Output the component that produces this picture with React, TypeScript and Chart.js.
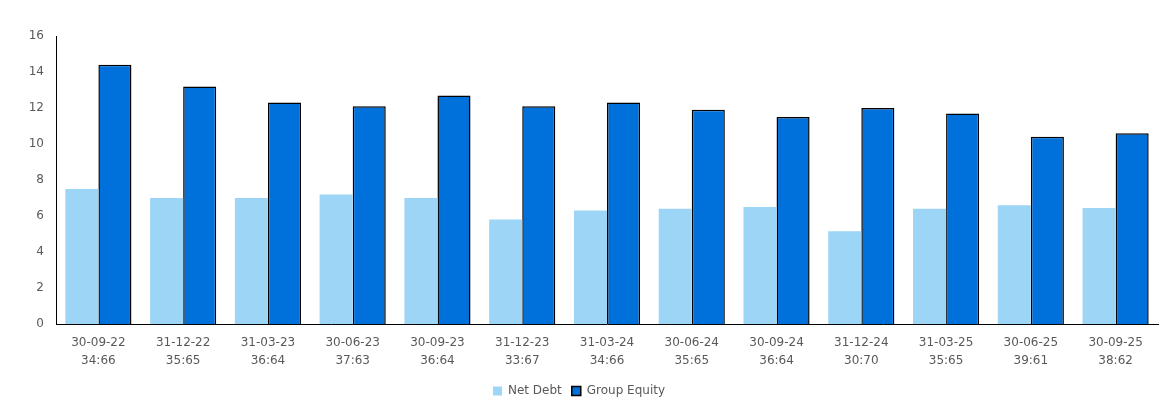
import React, { useEffect, useRef } from 'react';
import { Chart, registerables } from 'chart.js';

Chart.register(...registerables);

const periods = [
  '30-09-22', '31-12-22', '31-03-23', '30-06-23', '30-09-23', '31-12-23', '31-03-24',
  '30-06-24', '30-09-24', '31-12-24', '31-03-25', '30-06-25', '30-09-25',
];
const ratios = [
  '34:66', '35:65', '36:64', '37:63', '36:64', '33:67', '34:66',
  '35:65', '36:64', '30:70', '35:65', '39:61', '38:62',
];
const netDebt = [7.5, 7.0, 7.0, 7.2, 7.0, 5.8, 6.3, 6.4, 6.5, 5.15, 6.4, 6.6, 6.45];
const groupEquity = [14.4, 13.2, 12.3, 12.1, 12.7, 12.1, 12.3, 11.9, 11.5, 12.0, 11.7, 10.4, 10.6];
const yTicks = { min: 0, max: 16, step: 2 };

const textColor = '#595959';
const font = { family: 'DejaVu Sans, Verdana, sans-serif', size: 12, lineHeight: 1.5 };

const App: React.FC = () => {
  const canvasRef = useRef<HTMLCanvasElement>(null);
  const chartRef = useRef<Chart | null>(null);

  useEffect(() => {
    document.body.style.margin = '0';
    if (!canvasRef.current) return;
    if (chartRef.current) chartRef.current.destroy();

    chartRef.current = new Chart(canvasRef.current, {
      type: 'bar',
      data: {
        labels: periods.map((p, i) => [p, ratios[i]]),
        datasets: [
          {
            label: 'Net Debt',
            data: netDebt,
            backgroundColor: '#9dd5f7',
            borderWidth: 0,
            barPercentage: 1,
            categoryPercentage: 0.78,
          },
          {
            label: 'Group Equity',
            data: groupEquity,
            backgroundColor: '#0070db',
            borderColor: '#000000',
            borderWidth: 1.5,
            barPercentage: 1,
            categoryPercentage: 0.78,
          },
        ],
      },
      options: {
        responsive: true,
        maintainAspectRatio: false,
        animation: false,
        layout: { padding: { top: 36, right: 6, left: 0, bottom: 0 } },
        scales: {
          x: {
            grid: { display: false, drawTicks: false },
            border: { display: true, color: '#000', width: 1 },
            ticks: { color: textColor, font, padding: 10, maxRotation: 0, autoSkip: false },
            afterFit: (scale: any) => {
              scale.height = 51;
            },
          },
          y: {
            min: yTicks.min,
            max: yTicks.max,
            grid: { display: false, drawTicks: false },
            border: { display: true, color: '#000', width: 1 },
            ticks: { stepSize: yTicks.step, color: textColor, font, padding: 12 },
            afterFit: (scale: any) => {
              scale.width = 56;
            },
          },
        },
        plugins: {
          legend: {
            position: 'bottom',
            labels: {
              color: textColor,
              font,
              boxWidth: 9,
              boxHeight: 9,
              padding: 10,
            },
          },
          tooltip: { enabled: false },
        },
      },
    });

    return () => {
      if (chartRef.current) {
        chartRef.current.destroy();
        chartRef.current = null;
      }
    };
  }, []);

  return (
    <div style={{ width: 1164, height: 407, position: 'relative' }}>
      <canvas ref={canvasRef} />
    </div>
  );
};

export default App;
